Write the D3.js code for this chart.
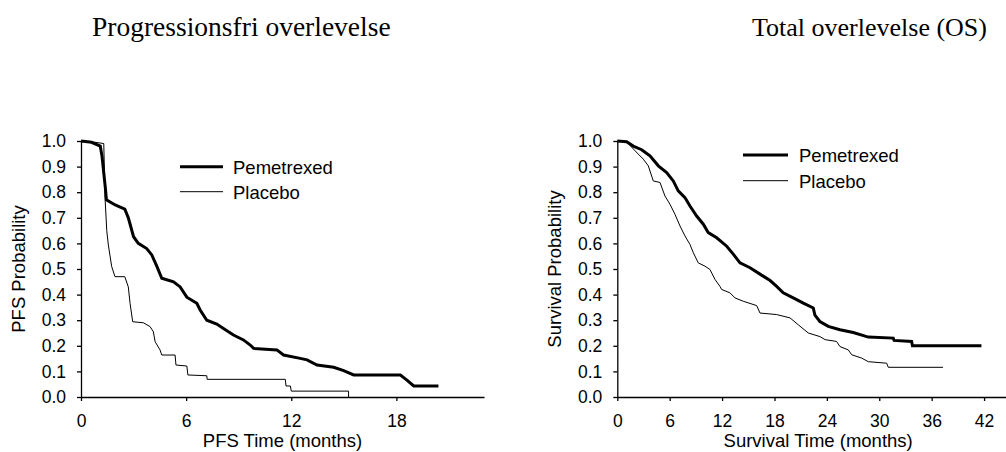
<!DOCTYPE html>
<html>
<head>
<meta charset="utf-8">
<script src="https://cdn.jsdelivr.net/npm/d3@7"></script>
<style>
  html, body { margin: 0; padding: 0; background: #fff; }
  svg { display: block; }
  .tick text { font-family: "Liberation Sans", Arial, sans-serif; font-size: 17.5px; fill: #000; }
</style>
</head>
<body>
<svg id="chart" width="1006" height="452"></svg>
<script>
// ---- Data ----
const titles = ["Progressionsfri overlevelse", "Total overlevelse (OS)"];
const seriesNames = ["Pemetrexed", "Placebo"];
const yTicks = [0, 0.1, 0.2, 0.3, 0.4, 0.5, 0.6, 0.7, 0.8, 0.9, 1.0];
const pfsXTicks = [0, 6, 12, 18];
const osXTicks = [0, 6, 12, 18, 24, 30, 36, 42];
const pfsXLabel = "PFS Time (months)";
const pfsYLabel = "PFS Probability";
const osXLabel = "Survival Time (months)";
const osYLabel = "Survival Probability";

// [months, probability]
const pfsPemetrexed = [[0,1.0],[0.6,0.995],[1.1,0.98],[1.2,0.94],[1.4,0.81],[1.45,0.77],[1.95,0.75],[2.5,0.734],[2.7,0.70],[3.0,0.626],[3.27,0.60],[3.75,0.58],[4.04,0.555],[4.33,0.51],[4.61,0.464],[5.28,0.45],[5.66,0.43],[6.04,0.39],[6.61,0.366],[6.8,0.34],[7.18,0.30],[7.75,0.285],[8.13,0.268],[8.7,0.242],[9.27,0.223],[9.66,0.203],[9.85,0.19],[11.18,0.184],[11.56,0.164],[12.51,0.151],[12.9,0.145],[13.47,0.125],[14.42,0.116],[14.99,0.103],[15.56,0.086],[18.23,0.086],[18.6,0.066],[18.99,0.043],[20.4,0.043]];
const pfsPlacebo = [[0,1.0],[0.8,0.995],[1.3,0.99],[1.37,0.78],[1.47,0.65],[1.56,0.594],[1.75,0.51],[1.94,0.47],[2.5,0.47],[2.7,0.43],[2.8,0.366],[2.95,0.294],[3.56,0.29],[3.94,0.275],[4.13,0.255],[4.23,0.216],[4.51,0.184],[4.61,0.164],[5.37,0.164],[5.42,0.125],[6.04,0.121],[6.1,0.086],[7.18,0.083],[7.2,0.069],[11.66,0.069],[11.7,0.043],[11.95,0.043],[12.0,0.023],[15.27,0.023],[15.27,0.0]];
const osPemetrexed = [[0,1.0],[1.07,0.997],[1.83,0.98],[2.79,0.966],[3.74,0.942],[4.7,0.903],[5.65,0.877],[6.41,0.844],[6.98,0.805],[7.75,0.779],[8.32,0.746],[9.09,0.707],[9.85,0.675],[10.42,0.642],[11.38,0.622],[12.53,0.589],[13.3,0.557],[14.05,0.524],[15.2,0.505],[16.34,0.48],[17.5,0.455],[18.25,0.432],[19.0,0.407],[20.15,0.387],[21.3,0.367],[22.44,0.348],[22.63,0.32],[23.2,0.295],[24.16,0.276],[25.5,0.263],[27.02,0.252],[28.74,0.234],[31.6,0.23],[31.7,0.221],[33.7,0.217],[33.8,0.2],[41.7,0.2]];
const osPlacebo = [[0,1.0],[1.07,0.997],[1.83,0.969],[2.4,0.949],[2.98,0.929],[3.55,0.903],[4.12,0.844],[4.89,0.838],[5.46,0.785],[6.03,0.753],[6.6,0.714],[7.18,0.668],[7.75,0.629],[8.32,0.596],[8.7,0.564],[9.27,0.524],[10.04,0.511],[10.61,0.498],[11.19,0.459],[11.76,0.432],[11.95,0.42],[12.9,0.407],[13.48,0.387],[14.43,0.374],[15.96,0.357],[16.34,0.328],[18.25,0.322],[19.78,0.309],[20.73,0.282],[21.87,0.25],[23.2,0.236],[23.8,0.224],[25.1,0.217],[25.5,0.197],[26.45,0.184],[26.84,0.165],[27.98,0.152],[28.74,0.138],[30.85,0.132],[31.03,0.116],[37.3,0.116]];

// ---- Drawing ----
const svg = d3.select("#chart");
const sans = '"Liberation Sans", Arial, sans-serif';
const serif = '"Liberation Serif", "Times New Roman", serif';

const panels = [
  { xMax: 23, x0: 81, x1: 484, xTicks: pfsXTicks, xLabel: pfsXLabel, yLabel: pfsYLabel, yLabelX: 25,
    series: [pfsPemetrexed, pfsPlacebo], legend: { x0: 180, x1: 223, tx: 233, ys: [166.7, 191.7] } },
  { xMax: 46, x0: 617.3, x1: 1019, xTicks: osXTicks, xLabel: osXLabel, yLabel: osYLabel, yLabelX: 561,
    series: [osPemetrexed, osPlacebo], legend: { x0: 743, x1: 788, tx: 799, ys: [155, 180.7] } }
];
const widths = [3, 1];

const yTop = 141, yBot = 397;

panels.forEach((p) => {
  const x = d3.scaleLinear().domain([0, p.xMax]).range([p.x0, p.x1]);
  const y = d3.scaleLinear().domain([0, 1]).range([yBot, yTop]);

  const gy = svg.append("g").attr("transform", `translate(${p.x0},0)`)
    .call(d3.axisLeft(y).tickValues(yTicks).tickFormat(d3.format(".1f")).tickSize(4).tickSizeOuter(0).tickPadding(11));
  const gx = svg.append("g").attr("transform", `translate(0,${yBot})`)
    .call(d3.axisBottom(x).tickValues(p.xTicks).tickSize(4).tickSizeOuter(0).tickPadding(14));
  [gy, gx].forEach(g => {
    g.select(".domain").attr("stroke", "#000").attr("stroke-width", 1.3);
    g.selectAll(".tick line").attr("stroke", "#000").attr("stroke-width", 1.3);
  });

  const line = d3.line().x(d => x(d[0])).y(d => y(d[1])).curve(d3.curveLinear);
  p.series.forEach((s, i) => {
    svg.append("path").datum(s).attr("d", line)
      .attr("fill", "none").attr("stroke", "#000").attr("stroke-width", widths[i])
      .attr("stroke-linejoin", "miter");
  });

  // legend
  seriesNames.forEach((name, i) => {
    svg.append("line").attr("x1", p.legend.x0).attr("x2", p.legend.x1)
      .attr("y1", p.legend.ys[i]).attr("y2", p.legend.ys[i])
      .attr("stroke", "#000").attr("stroke-width", widths[i]);
    svg.append("text").attr("x", p.legend.tx).attr("y", p.legend.ys[i] + 7)
      .attr("font-family", sans).attr("font-size", 18.5).text(name);
  });

  // axis labels
  svg.append("text").attr("x", (p.x0 + p.x1) / 2).attr("y", 447)
    .attr("text-anchor", "middle").attr("font-family", sans).attr("font-size", 18.5).text(p.xLabel);
  svg.append("text").attr("transform", `translate(${p.yLabelX},${(yTop + yBot) / 2}) rotate(-90)`)
    .attr("text-anchor", "middle").attr("font-family", sans).attr("font-size", 18.5).text(p.yLabel);
});

// titles
svg.append("text").attr("x", 92).attr("y", 36).attr("font-family", serif).attr("font-size", 27.5).text(titles[0]);
svg.append("text").attr("x", 987).attr("y", 36).attr("text-anchor", "end").attr("font-family", serif).attr("font-size", 26).text(titles[1]);
</script>
</body>
</html>
